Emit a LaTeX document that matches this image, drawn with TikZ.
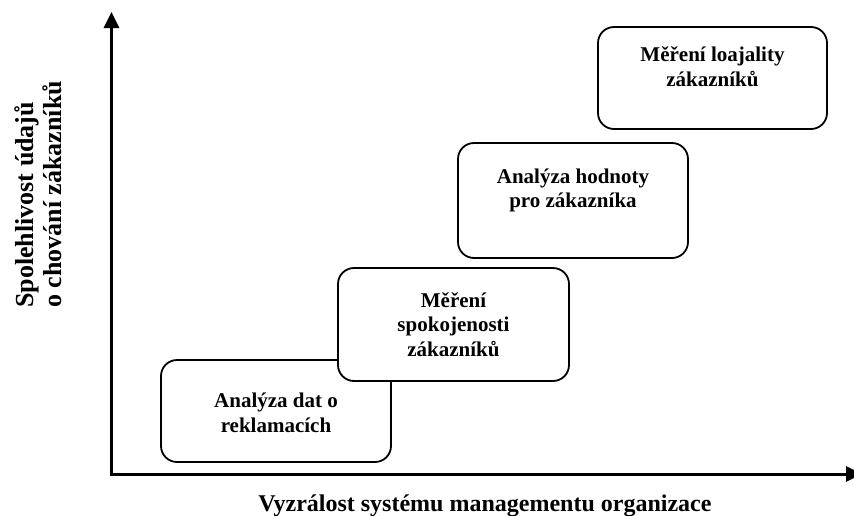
\documentclass[tikz,border=0pt]{standalone}
\usepackage{fontspec}
\setmainfont{Liberation Serif}
\usetikzlibrary{arrows.meta,calc}

\tikzset{
  stage/.style={draw, line width=1.8pt, rounded corners=16pt, fill=white,
    inner sep=0pt, minimum width=230pt},
  % base anchor of a multi-line node sits on the baseline of its last line
  stagetext/.style={anchor=base, align=center, inner sep=0pt,
    font=\bfseries\fontsize{21}{24.5}\selectfont},
  axis/.style={line width=3pt, -{Triangle[length=16pt,width=15pt]}},
  axislabel/.style={inner sep=0pt, font=\bfseries}
}

\begin{document}
\begin{tikzpicture}[x=1pt, y=-1pt]
  \useasboundingbox (0,0) rectangle (854,515);
  \clip (0,0) rectangle (854,515);

  % axes
  \coordinate (origin) at (111.5,474);
  \coordinate (ytip) at (111.5,12);
  \coordinate (xtip) at (862,474);
  \draw[axis] ([yshift=-1.5pt]origin) -- (ytip);
  \draw[axis] ([xshift=-1.5pt]origin) -- (xtip);

  % stage boxes, lowest first so that each one covers the previous
  \node[stage, minimum height=102pt] (b1) at (276,411) {};
  \node[stage, minimum height=113pt, minimum width=231pt] (b2) at (453.5,324.5) {};
  \node[stage, minimum height=115pt] (b3) at (573,200.5) {};
  \node[stage, minimum height=102pt, minimum width=229pt] (b4) at (712.5,78) {};

  % stage labels
  \node[stagetext] (t1) at (276,432) {Analýza dat o\\reklamacích};
  \node[stagetext] (t2) at (453.5,356) {Měření\\spokojenosti\\zákazníků};
  \node[stagetext] (t3) at (573,207.5) {Analýza hodnoty\\pro zákazníka};
  \node[stagetext] (t4) at (712.5,86) {Měření loajality\\zákazníků};

  % axis labels
  \node[axislabel, anchor=base, font=\bfseries\fontsize{24}{28}\selectfont] (xlab) at (485,511)
    {Vyzrálost systému managementu organizace};
  \node[axislabel, rotate=90, anchor=west, align=left,
        font=\bfseries\fontsize{26}{28}\selectfont] (ylab) at (38,308)
    {Spolehlivost údajů\\o chování zákazníků};
\end{tikzpicture}
\end{document}
